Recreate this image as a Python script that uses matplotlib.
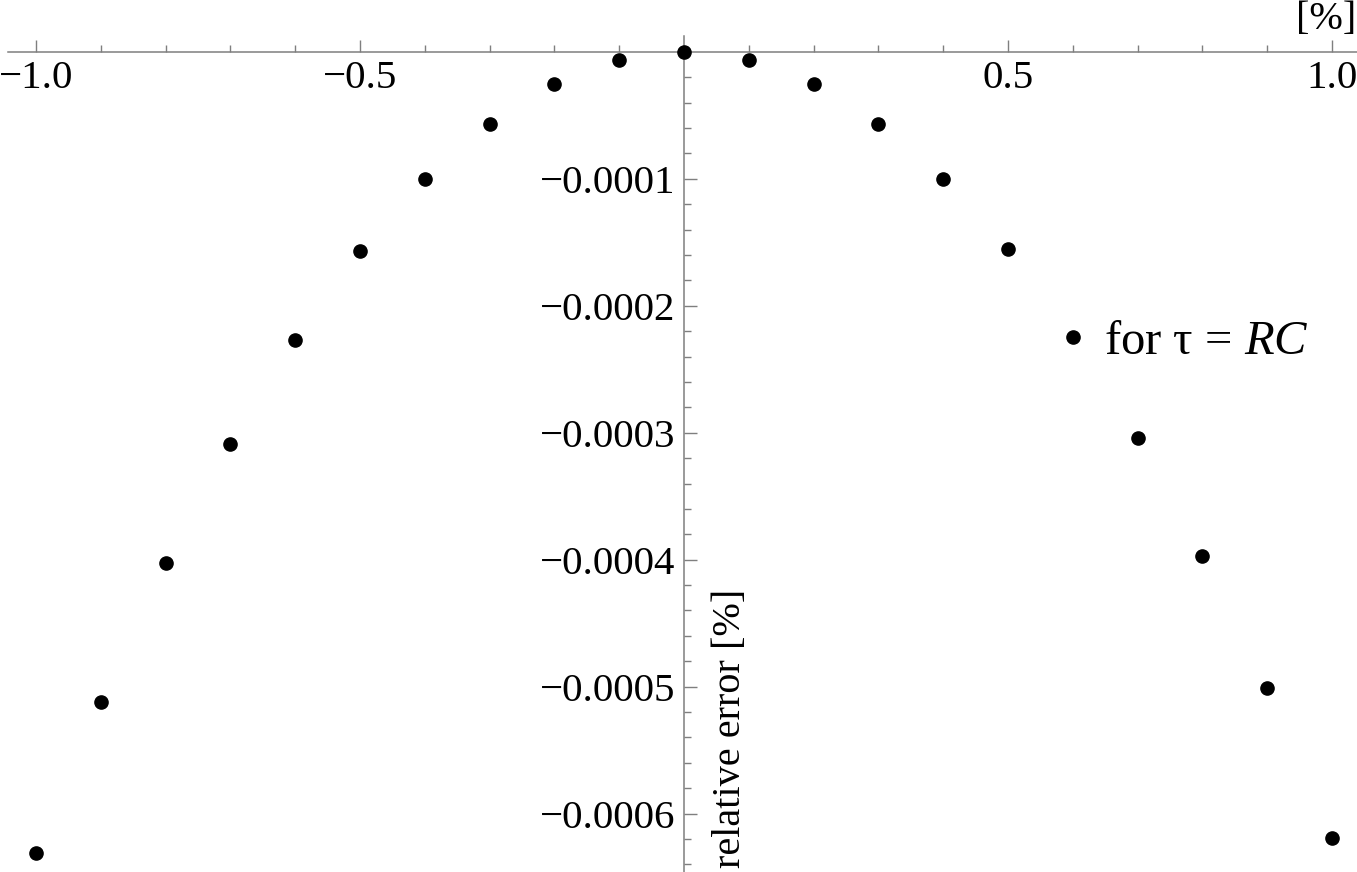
import numpy as np
import matplotlib
matplotlib.use("Agg")
import matplotlib.pyplot as plt
from matplotlib.ticker import FixedLocator

plt.rcParams['font.family'] = ['Liberation Serif', 'DejaVu Serif']
plt.rcParams['mathtext.fontset'] = 'custom'
plt.rcParams['mathtext.rm'] = 'Liberation Serif'
plt.rcParams['mathtext.it'] = 'Liberation Serif:italic'

# data
x_vals = [-1.0, -0.9, -0.8, -0.7, -0.6, -0.5, -0.4, -0.3, -0.2, -0.1, 0.0,
          0.1, 0.2, 0.3, 0.4, 0.5, 0.6, 0.7, 0.8, 0.9, 1.0]
rel_err = [-0.0006307, -0.0005118, -0.0004024, -0.0003087, -0.0002268,
           -0.0001567, -0.0001000, -0.0000567, -0.0000252, -0.0000063, 0.0,
           -0.0000063, -0.0000252, -0.0000567, -0.0001000, -0.0001551,
           -0.0002244, -0.0003039, -0.0003969, -0.0005008, -0.0006189]
x_ticks = [-1.0, -0.5, 0.5, 1.0]
x_ticklabels = ['\u22121.0', '\u22120.5', '0.5', '1.0']
y_ticks = [-0.0006, -0.0005, -0.0004, -0.0003, -0.0002, -0.0001]
y_ticklabels = ['\u22120.0006', '\u22120.0005', '\u22120.0004',
                '\u22120.0003', '\u22120.0002', '\u22120.0001']

fig = plt.figure(figsize=(13.57, 8.72), dpi=100)
ax = fig.add_axes([0, 0, 1, 1])
ax.patch.set_alpha(0)

ax.plot(x_vals, rel_err, 'o', color='black', markersize=9.5, clip_on=False, zorder=5)

ax.set_xlim(-1.0556, 1.0386)
ax.set_ylim(-0.000646, 0.0000409)

# axes crossing at origin
axcol = '#7f7f7f'
ax.spines['left'].set_position(('data', 0))
ax.spines['bottom'].set_position(('data', 0))
ax.spines['right'].set_visible(False)
ax.spines['top'].set_visible(False)
for s in ('left', 'bottom'):
    ax.spines[s].set_color(axcol)
    ax.spines[s].set_linewidth(1.1)
ax.spines['left'].set_bounds(-0.000646, 0.0000126)
ax.spines['bottom'].set_bounds(-1.0425, 1.0386)

ax.xaxis.set_major_locator(FixedLocator(x_ticks))
ax.xaxis.set_minor_locator(FixedLocator([v / 10 for v in range(-10, 11) if v not in (-10, -5, 0, 5, 10)]))
ax.set_xticklabels(x_ticklabels)
ax.yaxis.set_major_locator(FixedLocator(y_ticks))
ax.yaxis.set_minor_locator(FixedLocator([-k * 0.00002 for k in range(1, 33) if k % 5 != 0]))
ax.set_yticklabels(y_ticklabels)

ax.tick_params(which='both', direction='in', color=axcol, width=1.0, labelsize=29.5,
               labelcolor='black')
ax.tick_params(which='major', length=9)
ax.tick_params(which='minor', length=5)
ax.tick_params(axis='x', which='major', pad=6)
ax.tick_params(axis='y', which='major', pad=6)

# axis labels
ax.text(1.0372, 0.0000405, '[%]', fontsize=29, ha='right', va='top')
ax.text(0.0715, -0.000533, 'relative error [%]', fontsize=29, rotation=90,
        ha='center', va='center')

# legend text beside the marker
ax.text(0.6487, -0.000238, 'for \u03c4 = $RC$', fontsize=35, ha='left', va='baseline')

fig.savefig('out.png', dpi=100)
